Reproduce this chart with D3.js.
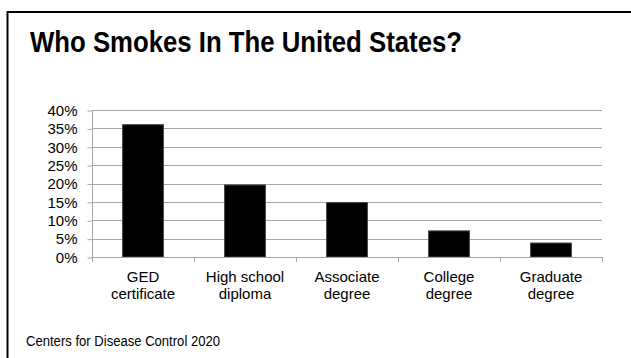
<!DOCTYPE html>
<html>
<head>
<meta charset="utf-8">
<script src="https://cdn.jsdelivr.net/npm/d3@7"></script>
<style>
  html, body { margin: 0; padding: 0; background: #fff; }
  svg { display: block; font-family: "Liberation Sans", Arial, sans-serif; }
</style>
</head>
<body>
<svg id="chart" width="631" height="358"></svg>
<script>
// Smoking rate by education level
const categories = [
  ["GED", "certificate"],
  ["High school", "diploma"],
  ["Associate", "degree"],
  ["College", "degree"],
  ["Graduate", "degree"]
];
const rates = [0.36, 0.196, 0.148, 0.071, 0.038];
const yTicks = [0, 0.05, 0.10, 0.15, 0.20, 0.25, 0.30, 0.35, 0.40];

const svg = d3.select("#chart");

// slide frame (runs past the right and bottom edges)
svg.append("rect")
  .attr("x", 7.5).attr("y", 12)
  .attr("width", 700).attr("height", 400)
  .attr("fill", "none").attr("stroke", "#000").attr("stroke-width", 2);

svg.append("text")
  .attr("x", 30).attr("y", 52)
  .attr("font-size", 30).attr("font-weight", "bold")
  .attr("textLength", 432).attr("lengthAdjust", "spacingAndGlyphs")
  .text("Who Smokes In The United States?");

const plot = { left: 92, right: 602, top: 110, bottom: 257 };

const x = d3.scaleBand()
  .domain(d3.range(categories.length))
  .range([plot.left, plot.right])
  .paddingInner(0.6).paddingOuter(0.3);

const y = d3.scaleLinear().domain([0, 0.4]).range([plot.bottom, plot.top]);

// horizontal gridlines
svg.append("g")
  .selectAll("line")
  .data(yTicks.filter(d => d > 0))
  .join("line")
  .attr("x1", plot.left).attr("x2", plot.right)
  .attr("y1", d => Math.round(y(d)) + 0.5).attr("y2", d => Math.round(y(d)) + 0.5)
  .attr("stroke", "#a6a6a6").attr("stroke-width", 1);

// y axis
const yAxis = svg.append("g")
  .attr("transform", `translate(${plot.left + 0.5},0.5)`)
  .call(d3.axisLeft(y).tickValues(yTicks).tickFormat(d3.format(".0%")).tickSize(5).tickPadding(10));
yAxis.select(".domain").attr("stroke", "#a6a6a6").attr("d", `M0,${plot.top}V${plot.bottom}`);
yAxis.selectAll(".tick line").attr("stroke", "#a6a6a6");
yAxis.selectAll(".tick text")
  .attr("font-size", 15).attr("fill", "#000")
  .attr("font-family", "'Liberation Sans', Arial, sans-serif");

// bars
svg.append("g")
  .selectAll("rect")
  .data(rates)
  .join("rect")
  .attr("x", (d, i) => x(i))
  .attr("y", d => y(d))
  .attr("width", x.bandwidth())
  .attr("height", d => plot.bottom - y(d))
  .attr("fill", "#000")
  .attr("stroke", "#404040").attr("stroke-width", 1);

// x axis with boundary ticks between categories
const boundaries = d3.range(categories.length + 1).map(i => plot.left + i * (plot.right - plot.left) / categories.length);
const xg = svg.append("g");
xg.append("line")
  .attr("x1", plot.left).attr("x2", plot.right)
  .attr("y1", plot.bottom + 0.5).attr("y2", plot.bottom + 0.5)
  .attr("stroke", "#a6a6a6");
xg.selectAll("line.tk")
  .data(boundaries)
  .join("line").attr("class", "tk")
  .attr("x1", d => Math.round(d) + 0.5).attr("x2", d => Math.round(d) + 0.5)
  .attr("y1", plot.bottom).attr("y2", plot.bottom + 5)
  .attr("stroke", "#a6a6a6");

const labels = xg.selectAll("text.cat")
  .data(categories)
  .join("text").attr("class", "cat")
  .attr("text-anchor", "middle")
  .attr("font-size", 15)
  .attr("x", (d, i) => x(i) + x.bandwidth() / 2)
  .attr("y", 282);
labels.selectAll("tspan")
  .data(d => d)
  .join("tspan")
  .attr("x", function () { return d3.select(this.parentNode).attr("x"); })
  .attr("dy", (d, i) => i === 0 ? 0 : 17)
  .text(d => d);

svg.append("text")
  .attr("x", 26).attr("y", 346)
  .attr("font-size", 14)
  .attr("textLength", 194).attr("lengthAdjust", "spacingAndGlyphs")
  .text("Centers for Disease Control 2020");
</script>
</body>
</html>
